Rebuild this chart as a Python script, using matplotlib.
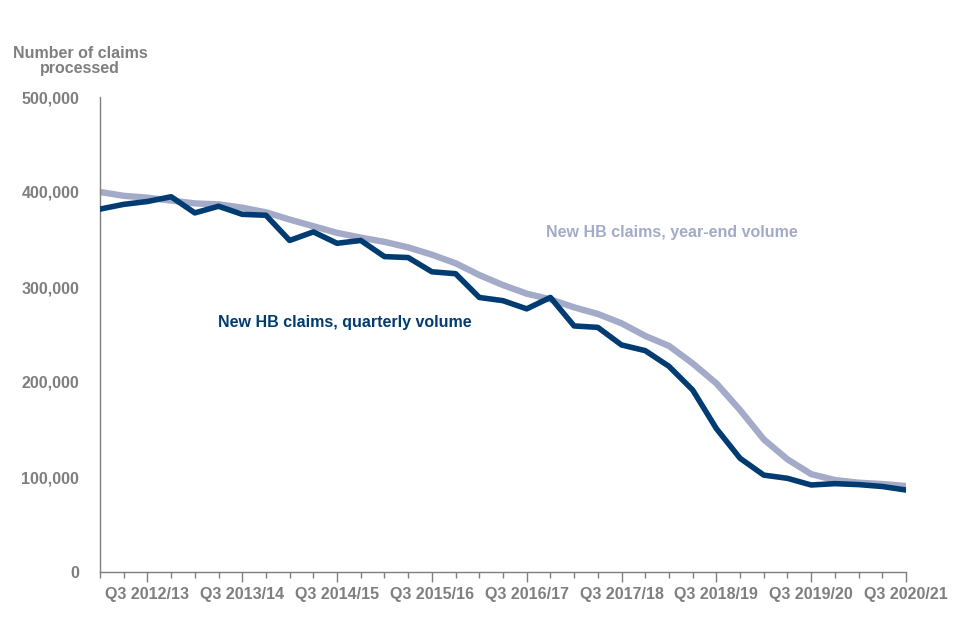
import matplotlib
matplotlib.use("Agg")
import matplotlib.pyplot as plt
import numpy as np

plt.rcParams['font.family'] = ['Liberation Sans', 'DejaVu Sans']

years = ["2012/13", "2013/14", "2014/15", "2015/16", "2016/17",
         "2017/18", "2018/19", "2019/20", "2020/21"]
quarters = [f"Q{q} {y}" for y in years for q in (1, 2, 3, 4)][:35]

quarterly = [382000, 387000, 390000, 395000, 378000, 385000, 376500, 375500,
             349000, 358000, 346000, 349000, 332000, 331000, 316000, 314000,
             289000, 285600, 277000, 289000, 259000, 257500, 239000, 233000,
             216500, 191600, 151000, 119700, 102000, 98600, 91600, 93000,
             92000, 90000, 86300]
year_end = [400000, 396000, 394000, 391000, 388000, 387000, 383500, 378600,
            371000, 364000, 357000, 352000, 347500, 341700, 334000, 325000,
            312600, 302000, 293000, 287000, 278600, 271600, 261800, 248500,
            238000, 219600, 198600, 170500, 139600, 118600, 103000, 96800,
            94000, 92600, 90500]
y_ticks = [0, 100000, 200000, 300000, 400000, 500000]

dark = "#003c71"
light = "#a3abc9"
grey = "#7f7f7f"

fig = plt.figure(figsize=(9.6, 6.4), dpi=100)
ax = fig.add_axes([100/960, 68/640, 806/960, 475/640])

x = np.arange(len(quarters))
ax.plot(x, year_end, color=light, lw=4.6, solid_joinstyle='round', zorder=2)
ax.plot(x, quarterly, color=dark, lw=4.0, solid_joinstyle='round', zorder=3)

ax.set_xlim(0, len(quarters) - 1)
ax.set_ylim(0, 500000)

ax.set_yticks(y_ticks)
ax.set_yticklabels([f"{v:,}" for v in y_ticks])
ax.tick_params(axis='y', length=0, pad=15, labelsize=11.5, labelcolor=grey)

major = [i for i, q in enumerate(quarters) if q.startswith("Q3")]
ax.set_xticks(major)
ax.set_xticklabels([quarters[i] for i in major])
ax.set_xticks(x, minor=True)
ax.tick_params(axis='x', which='major', length=7, width=1, color=grey,
               pad=4, labelsize=11.5, labelcolor=grey)
ax.tick_params(axis='x', which='minor', length=4, width=1, color=grey)
for lab in ax.get_xticklabels() + ax.get_yticklabels():
    lab.set_fontweight('bold')

for s in ('top', 'right'):
    ax.spines[s].set_visible(False)
for s in ('left', 'bottom'):
    ax.spines[s].set_color(grey)
    ax.spines[s].set_linewidth(1)

fig.text(80/960, 1 - 61/640, "Number of claims\nprocessed", ha='center',
         va='center', fontsize=11.5, fontweight='bold', color=grey,
         linespacing=1.05)

ax.annotate("New HB claims, year-end volume", xy=(546, 640 - 232),
            xycoords='figure pixels', ha='left', va='center', fontsize=11.5,
            fontweight='bold', color=light)
ax.annotate("New HB claims, quarterly volume", xy=(218, 640 - 323),
            xycoords='figure pixels', ha='left', va='center', fontsize=11.5,
            fontweight='bold', color=dark)

fig.savefig("out.png", dpi=100)
